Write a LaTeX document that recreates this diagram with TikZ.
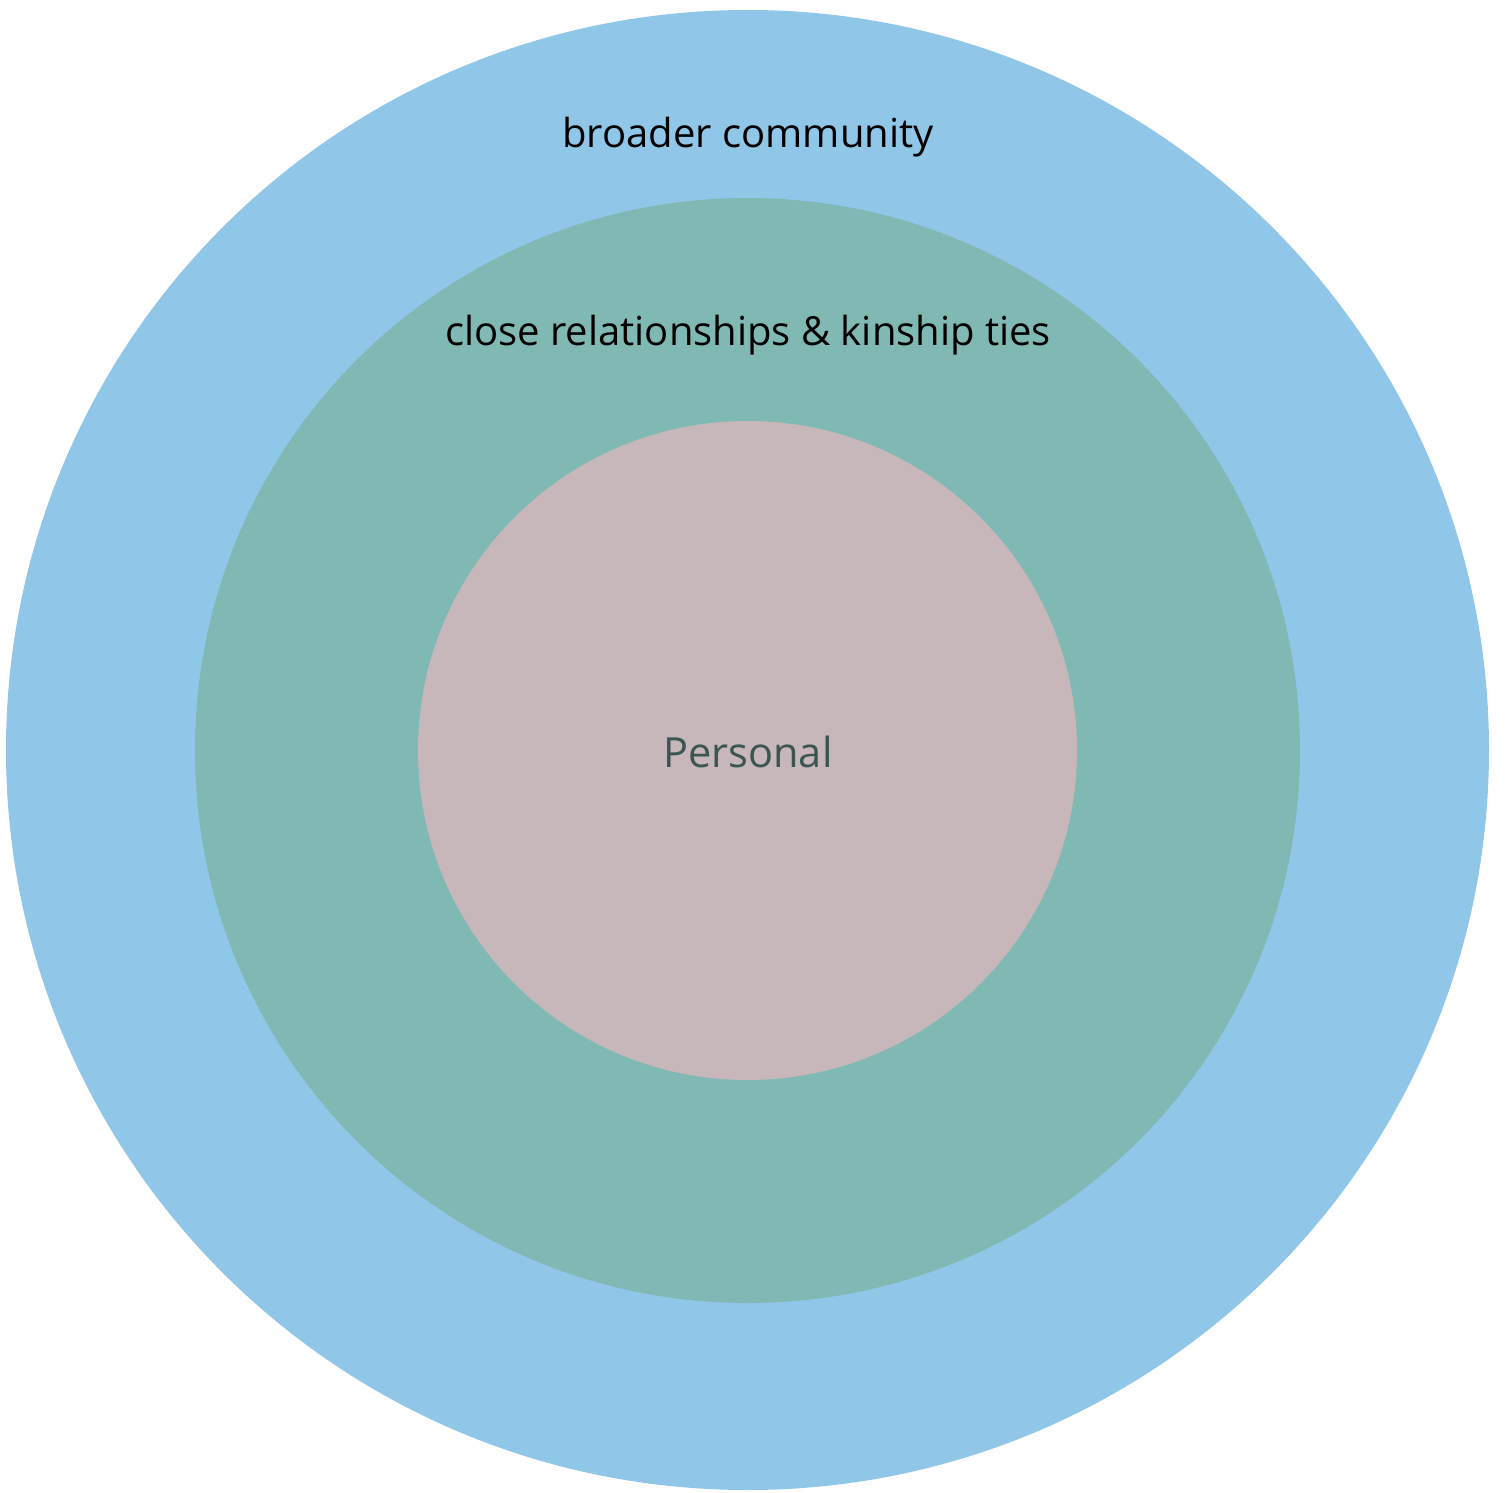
\documentclass[tikz,border=0pt]{standalone}
\usepackage{fontspec}
\setmainfont{Open Sans}
\definecolor{outerc}{HTML}{90C6E7}
\definecolor{midc}{HTML}{80B9B4}
\definecolor{innerc}{HTML}{C7B6BA}
\definecolor{perc}{HTML}{3A5552}
\begin{document}
\begin{tikzpicture}[x=1pt,y=-1pt,
  lbl/.style={font=\fontsize{40}{48}\selectfont, text=black, inner sep=0pt}]
\useasboundingbox (0,0) rectangle (1507,1493);
\fill[outerc] (747.5,750) ellipse [x radius=741.5, y radius=740];
\fill[midc] (747.5,750.5) ellipse [x radius=552.5, y radius=552.5];
\fill[innerc] (747.5,750.5) ellipse [x radius=329.5, y radius=329.5];
\node[lbl] (broad) at (748,137) {broader community};
\node[lbl] (close) at (748,335) {close relationships \& kinship ties};
\node[lbl, text=perc, font=\fontsize{41.5}{50}\selectfont] (pers) at (748,752) {Personal};
\end{tikzpicture}
\end{document}
